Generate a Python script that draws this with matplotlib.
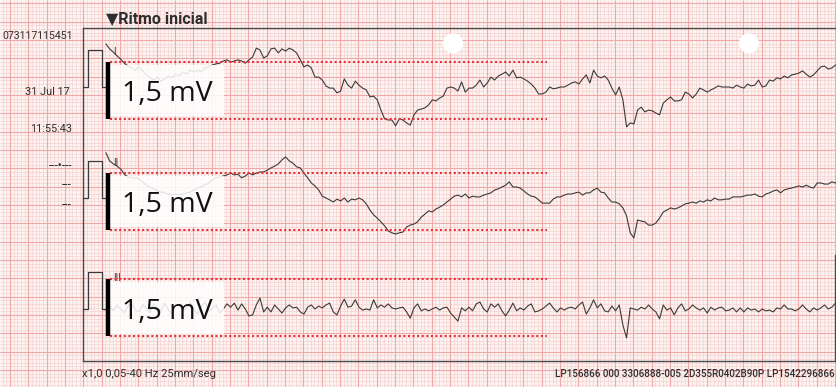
import numpy as np
import matplotlib.pyplot as plt
from matplotlib.patches import Rectangle, Circle

# ECG samples, one per millimetre of paper (0.04 s at 25 mm/s), in mV
lead_I = [1.17, 1.04, 0.95, 0.85, 0.76, 0.65, 0.57, 0.52, 0.46, 0.55,
          0.44, 0.33, 0.25, 0.19, 0.27, 0.16, 0.22, 0.30, 0.25, 0.35,
          0.30, 0.41, 0.35, 0.46, 0.41, 0.46, 0.41, 0.52, 0.55, 0.60,
          0.63, 0.65, 0.71, 0.74, 0.68, 0.71, 0.74, 0.71, 0.65, 0.74,
          0.82, 1.06, 1.01, 0.79, 0.85, 1.04, 1.06, 0.93, 1.04, 0.98,
          1.06, 1.01, 0.93, 0.74, 0.55, 0.60, 0.52, 0.27, 0.27, 0.19,
          0.03, -0.03, -0.03, -0.16, -0.11, 0.22, 0.05, -0.03, 0.16, 0.05,
          -0.03, -0.08, -0.27, -0.25, -0.35, -0.63, -0.87, -0.90, -0.90, -1.06,
          -0.87, -0.90, -0.98, -1.04, -0.76, -0.63, -0.60, -0.57, -0.49, -0.35,
          -0.38, -0.30, -0.25, -0.03, 0.00, -0.03, -0.11, 0.14, -0.14, -0.03,
          -0.03, 0.05, 0.19, 0.00, 0.11, 0.27, 0.19, 0.30, 0.35, 0.41,
          0.30, 0.46, 0.25, 0.27, 0.22, 0.16, 0.08, -0.03, -0.19, -0.19,
          -0.14, 0.00, -0.05, -0.03, 0.00, 0.00, 0.05, 0.11, 0.14, 0.08,
          0.22, 0.33, 0.11, 0.46, 0.30, 0.25, 0.30, 0.19, -0.03, -0.22,
          0.00, -0.35, -1.09, -0.98, -1.01, -0.63, -0.55, -0.68, -0.63, -0.65,
          -0.71, -0.76, -0.44, -0.35, -0.27, -0.38, -0.38, -0.35, -0.14, -0.19,
          -0.30, -0.19, -0.03, -0.08, -0.14, -0.08, -0.03, 0.03, 0.00, 0.00,
          0.00, -0.03, 0.05, 0.00, -0.03, 0.08, 0.03, 0.05, 0.19, 0.00,
          0.03, 0.19, 0.16, 0.25, 0.22, 0.30, 0.25, 0.33, 0.35, 0.38,
          0.44, 0.35, 0.27, 0.33, 0.44, 0.55, 0.57, 0.49, 0.52, 0.60]

lead_II = [1.23, 1.01, 0.93, 0.87, 0.79, 0.65, 0.57, 0.55, 0.55, 0.52,
           0.44, 0.35, 0.30, 0.25, 0.19, 0.16, 0.14, 0.11, 0.08, 0.11,
           0.08, 0.11, 0.14, 0.16, 0.22, 0.27, 0.30, 0.35, 0.41, 0.49,
           0.55, 0.57, 0.60, 0.63, 0.68, 0.63, 0.65, 0.55, 0.60, 0.68,
           0.63, 0.68, 0.71, 0.71, 0.76, 0.82, 0.87, 0.93, 1.04, 1.12,
           1.01, 0.95, 0.85, 0.82, 0.68, 0.55, 0.41, 0.33, 0.22, 0.05,
           0.00, -0.05, -0.11, -0.03, -0.08, 0.00, -0.11, -0.03, -0.05, 0.00,
           -0.05, -0.16, -0.33, -0.46, -0.55, -0.65, -0.76, -0.90, -0.95, -0.98,
           -0.95, -0.93, -0.79, -0.74, -0.71, -0.65, -0.52, -0.44, -0.35, -0.38,
           -0.30, -0.25, -0.19, -0.11, -0.03, 0.05, 0.08, 0.03, 0.11, 0.00,
           0.05, 0.03, 0.03, 0.08, 0.11, 0.14, 0.22, 0.25, 0.30, 0.35,
           0.44, 0.30, 0.30, 0.27, 0.19, 0.11, 0.05, 0.03, -0.05, -0.14,
           -0.14, -0.14, -0.03, 0.03, 0.03, 0.08, 0.11, 0.11, 0.14, 0.16,
           0.08, 0.14, 0.14, 0.22, 0.27, 0.16, 0.14, 0.00, -0.11, -0.11,
           -0.16, -0.27, -0.49, -0.95, -1.09, -0.60, -0.63, -0.65, -0.74, -0.74,
           -0.68, -0.55, -0.38, -0.33, -0.27, -0.30, -0.27, -0.22, -0.16, -0.14,
           -0.11, -0.14, -0.08, -0.11, -0.05, -0.08, 0.00, -0.05, -0.05, -0.03,
           -0.03, 0.03, 0.03, 0.03, 0.05, 0.08, 0.08, 0.11, 0.05, 0.03,
           0.11, 0.14, 0.19, 0.22, 0.14, 0.22, 0.25, 0.27, 0.30, 0.33,
           0.30, 0.35, 0.30, 0.27, 0.41, 0.41, 0.38, 0.38, 0.44, 0.41]

lead_III = [-0.03, 0.08, -0.05, 0.11, 0.00, -0.11, 0.08, 0.16, -0.03, -0.08,
            0.11, 0.03, -0.11, 0.14, 0.00, -0.05, 0.16, -0.03, -0.11, 0.08,
            0.14, -0.05, 0.03, 0.19, -0.03, -0.14, 0.08, 0.19, -0.05, 0.00,
            0.11, -0.11, 0.00, 0.14, 0.05, 0.16, -0.03, 0.14, 0.00, -0.19,
            -0.16, 0.11, 0.30, -0.08, 0.05, -0.08, 0.11, 0.00, -0.11, 0.03,
            0.11, 0.03, 0.05, -0.08, -0.14, 0.05, 0.11, 0.00, 0.08, 0.03,
            0.11, 0.16, -0.08, -0.16, 0.08, 0.27, 0.05, 0.08, 0.25, 0.05,
            -0.03, 0.00, -0.03, 0.25, 0.03, 0.11, 0.05, 0.14, 0.03, 0.00,
            0.03, 0.05, -0.08, -0.25, 0.03, 0.14, -0.05, 0.00, -0.05, 0.00,
            0.05, -0.03, 0.03, 0.05, -0.11, -0.22, -0.33, 0.03, -0.05, 0.05,
            -0.05, 0.14, 0.19, 0.00, -0.08, 0.14, 0.05, 0.14, -0.05, -0.19,
            -0.03, 0.16, -0.05, 0.03, -0.03, 0.08, 0.14, -0.08, -0.05, 0.00,
            0.08, 0.16, 0.03, -0.08, 0.03, -0.03, 0.03, 0.05, 0.00, 0.11,
            0.19, -0.14, 0.03, 0.25, 0.03, 0.14, -0.05, -0.08, 0.08, -0.05,
            0.11, -0.44, -0.79, 0.03, 0.00, -0.03, 0.05, 0.00, 0.11, 0.00,
            -0.08, -0.27, 0.11, -0.03, 0.03, -0.16, 0.03, 0.14, -0.05, 0.00,
            0.11, 0.03, -0.03, 0.03, -0.11, 0.05, -0.03, 0.03, 0.05, -0.05,
            -0.03, 0.03, -0.08, 0.03, -0.08, 0.03, -0.03, 0.00, -0.08, 0.00,
            -0.05, -0.03, -0.08, 0.03, 0.00, 0.11, 0.00, 0.00, -0.05, 0.00,
            0.11, 0.00, -0.08, 0.03, -0.03, 0.03, 0.11, 0.00, 0.05, 0.16]

leads = [lead_I, lead_II, lead_III]
lead_names = ['I', 'II', 'III']
cal_mv = 1.0
# dotted 1,5 mV reference lines drawn over each lead
ref_top = [0.68, 0.68, 0.82]
ref_bottom = [-0.87, -0.87, -0.74]
ref_label = '1,5 mV'

title = '\u25bcRitmo inicial'
patient_id = '073117115451'
date_txt = '31 Jul 17'
time_txt = '11:55:43'
filter_txt = 'x1,0 0,05-40 Hz 25mm/seg'
device_txt = 'LP156866 000 3306888-005 2D355R0402B90P LP1542296866'

W, H = 837, 387
MM = 18.33 / 5          # pixels per millimetre of paper
SPEED = 25              # mm/s
GAIN = 10               # mm/mV
dt = 1 / SPEED
x0 = 106                # where the traces start
bases = [87, 198, 309]  # baseline of each strip

narrow = ['Roboto', 'DejaVu Sans']
ink = '#3a3a3a'
label_ink = '#2e2e2e'

fig = plt.figure(figsize=(W / 100, H / 100), dpi=100)
fig.patch.set_facecolor('#fdf3f1')

# paper
ax = fig.add_axes([0, 0, 1, 1])
ax.set_xlim(0, W)
ax.set_ylim(H, 0)
ax.axis('off')
minor = MM
major = 5 * MM
ax.vlines(np.arange(10.1 % minor, W, minor), 0, H, colors='#f5d3d0', lw=0.5, zorder=0)
ax.hlines(np.arange(3.35 % minor, H, minor), 0, W, colors='#f5d3d0', lw=0.5, zorder=0)
ax.vlines(np.arange(10.1, W, major), 0, H, colors='#eeaaa8', lw=0.8, zorder=0)
ax.hlines(np.arange(3.35, H, major), 0, W, colors='#eeaaa8', lw=0.8, zorder=0)

# punched holes
for cx in [453, 749]:
    ax.add_patch(Circle((cx, 43.3), 10, fc='white', ec='none', zorder=1))

# frame
ax.plot([83, W], [28.3, 28.3], color='#4a4a4a', lw=1.0, zorder=1)
ax.plot([83, 83], [28.3, 361], color='#4a4a4a', lw=1.0, zorder=1)
ax.plot([83, 835], [361, 361], color='#4a4a4a', lw=1.0, zorder=1)
ax.plot([835, 835], [255, 361], color='#4a4a4a', lw=1.0, zorder=1)

ax.text(106, 19, title, fontsize=11.5, fontweight='bold', family=narrow,
        color=label_ink, va='center', ha='left')
ax.text(73, 36, patient_id, fontsize=7.6, family=narrow, color=label_ink,
        va='center', ha='right')
ax.text(70, 92, date_txt, fontsize=7.8, family=narrow, color=label_ink, va='center', ha='right')
ax.text(72, 129, time_txt, fontsize=7.8, family=narrow, color=label_ink, va='center', ha='right')
ax.text(72, 165, '---\u2022---', fontsize=8.5, family=narrow, color=label_ink, va='center', ha='right')
ax.text(72, 185, '---', fontsize=8.5, family=narrow, color=label_ink, va='center', ha='right')
ax.text(72, 205, '---', fontsize=8.5, family=narrow, color=label_ink, va='center', ha='right')
ax.text(82, 374, filter_txt, fontsize=8.1, family=narrow, color=label_ink, va='center')
ax.text(835, 374, device_txt, fontsize=7.1, fontweight='medium', family=narrow,
        color=label_ink, va='center', ha='right')

px_s = MM * SPEED
px_mv = MM * GAIN
for vals, name, base, top, bot in zip(leads, lead_names, bases, ref_top, ref_bottom):
    lax = fig.add_axes([0, 0, 1, 1])
    lax.set_xlim(-x0 / px_s, (W - x0) / px_s)
    lax.set_ylim((base - H) / px_mv, base / px_mv)
    lax.axis('off')
    lax.patch.set_visible(False)

    t = np.arange(len(vals)) * dt
    lax.plot(t, vals, color=ink, lw=0.8, zorder=2)

    # 1 mV calibration pulse
    lax.plot([-0.25, -0.2, -0.2, -0.047, -0.047, 0.0],
             [0, 0, cal_mv, cal_mv, 0, 0], color=ink, lw=0.9, zorder=2)
    lax.text(0.08, 0.95 if name != 'III' else 0.84, name, fontsize=7, family=narrow,
             color=ink, va='center', ha='left', zorder=3)

    # reference overlay
    lax.add_patch(Rectangle((0.045, bot + 0.07), 1.24, top - bot - 0.14,
                            fc='white', ec='none', alpha=0.85, zorder=3))
    lax.hlines([top, bot], 0.045, 4.81, colors='#e8333a', lw=1.5,
               linestyles=(0, (1, 1.2)), zorder=4)
    lax.vlines(0.022, bot, top, colors='black', lw=3.2, zorder=4)
    lax.text(0.175, (top + bot) / 2 - 0.30, ref_label, fontsize=20.5,
             family=['Open Sans', 'DejaVu Sans'], color='#111111',
             va='baseline', ha='left', zorder=5)

fig.savefig('out.png', dpi=100)
